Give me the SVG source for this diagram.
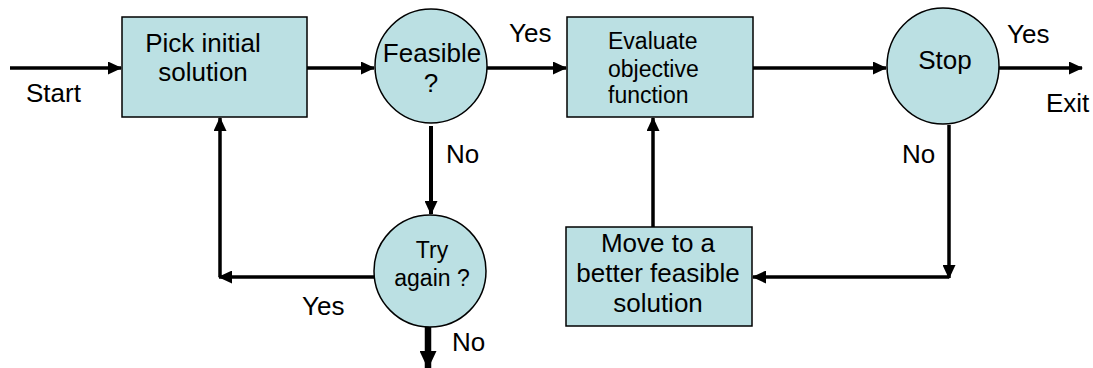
<svg xmlns="http://www.w3.org/2000/svg" width="1093" height="368" viewBox="0 0 1093 368">
<style>
.node{fill:#BBE0E3;stroke:#000;stroke-width:1.5}
.t{font-family:"Liberation Sans",Arial,sans-serif;font-size:26px;fill:#000}
.c{text-anchor:middle}
.e{font-size:23px}
.s{font-size:23px}
.conn line{stroke:#000;stroke-width:3.5}
</style>
<defs>
<marker id="ah" viewBox="0 0 14 13" refX="13" refY="6.5" markerWidth="14" markerHeight="13" markerUnits="userSpaceOnUse" orient="auto">
<path d="M0,0 L14,6.5 L0,13 Z" fill="#000"/>
</marker>
<marker id="ahb" viewBox="0 0 18 17" refX="17" refY="8.5" markerWidth="18" markerHeight="17" markerUnits="userSpaceOnUse" orient="auto">
<path d="M0,0 L18,8.5 L0,17 Z" fill="#000"/>
</marker>
</defs>
<g id="connectors" class="conn">
<line x1="10" y1="68" x2="121" y2="68" marker-end="url(#ah)"/>
<line x1="307" y1="68" x2="374" y2="68" marker-end="url(#ah)"/>
<line x1="487" y1="68" x2="566" y2="68" marker-end="url(#ah)"/>
<line x1="753" y1="68" x2="886" y2="68" marker-end="url(#ah)"/>
<line x1="999" y1="68" x2="1082" y2="68" marker-end="url(#ah)"/>
<line x1="431" y1="126" x2="431" y2="214" style="stroke-width:4" marker-end="url(#ah)"/>
<line x1="376" y1="277" x2="219" y2="277" marker-end="url(#ah)"/>
<line x1="220" y1="277" x2="220" y2="118" marker-end="url(#ah)"/>
<line x1="428" y1="323" x2="428" y2="368" style="stroke-width:6.5" marker-end="url(#ahb)"/>
<line x1="653" y1="227" x2="653" y2="118" marker-end="url(#ah)"/>
<line x1="949" y1="125" x2="949" y2="278" marker-end="url(#ah)"/>
<line x1="949" y1="277" x2="753" y2="277" marker-end="url(#ah)"/>
</g>
<g id="pick">
<rect class="node" x="122" y="17" width="185" height="100"/>
<text class="t c" x="203" y="52">Pick initial</text>
<text class="t c" x="203" y="81">solution</text>
</g>
<g id="feasible">
<ellipse class="node" cx="431" cy="66" rx="56" ry="57"/>
<text class="t c" x="432" y="62">Feasible</text>
<text class="t c" x="431" y="92">?</text>
</g>
<g id="evaluate">
<rect class="node" x="567" y="17" width="186" height="100"/>
<text class="t e" x="608" y="49">Evaluate</text>
<text class="t e" x="608" y="77">objective</text>
<text class="t e" x="608" y="103">function</text>
</g>
<g id="stop">
<ellipse class="node" cx="943" cy="66" rx="56" ry="58"/>
<text class="t c" x="945" y="69">Stop</text>
</g>
<g id="tryagain">
<ellipse class="node" cx="430" cy="271" rx="56" ry="56"/>
<text class="t c s" x="432" y="258">Try</text>
<text class="t c s" x="432" y="286">again ?</text>
</g>
<g id="move">
<rect class="node" x="566" y="227" width="186" height="99"/>
<text class="t c" x="658" y="252">Move to a</text>
<text class="t c" x="658" y="282">better feasible</text>
<text class="t c" x="658" y="312">solution</text>
</g>
<g id="labels">
<text class="t" x="26" y="102">Start</text>
<text class="t" x="509" y="42">Yes</text>
<text class="t" x="446" y="163">No</text>
<text class="t" x="302" y="315">Yes</text>
<text class="t" x="452" y="351">No</text>
<text class="t" x="1007" y="43">Yes</text>
<text class="t" x="1046" y="112">Exit</text>
<text class="t" x="902" y="163">No</text>
</g>
</svg>
